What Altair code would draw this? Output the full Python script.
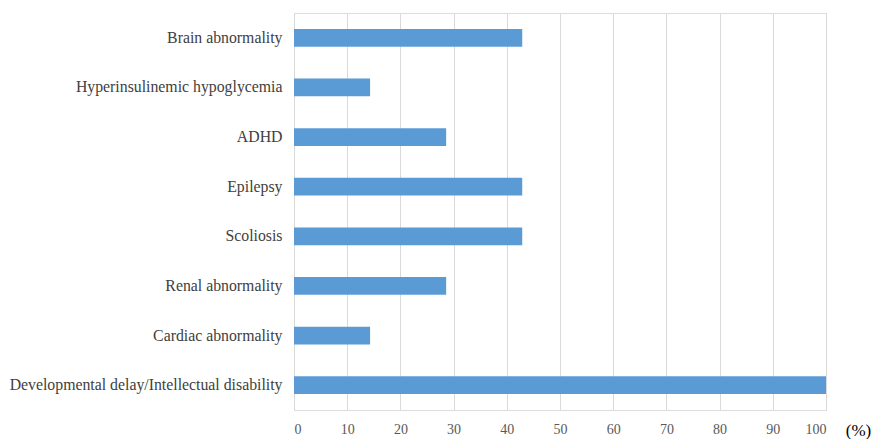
import altair as alt
import pandas as pd

categories = [
    "Brain abnormality",
    "Hyperinsulinemic hypoglycemia",
    "ADHD",
    "Epilepsy",
    "Scoliosis",
    "Renal abnormality",
    "Cardiac abnormality",
    "Developmental delay/Intellectual disability",
]
values = [42.9, 14.3, 28.6, 42.9, 42.9, 28.6, 14.3, 100.0]
x_ticks = [0, 10, 20, 30, 40, 50, 60, 70, 80, 90, 100]

df = pd.DataFrame({"category": categories, "value": values})

serif = "Liberation Serif"

chart = (
    alt.Chart(df)
    .mark_bar(color="#5B9BD5")
    .encode(
        x=alt.X(
            "value:Q",
            scale=alt.Scale(domain=[0, 100], nice=False),
            axis=alt.Axis(
                values=x_ticks,
                title="(%)",
                titleFont=serif,
                titleFontSize=17,
                titleFontWeight="normal",
                titleColor="#000000",
                titleAngle=0,
                titleAlign="center",
                titleBaseline="middle",
                titleX=564,
                titleY=20,
                domain=False,
                ticks=False,
                labelFont=serif,
                labelFontSize=14,
                labelColor="#595959",
                labelPadding=12,
                grid=True,
                gridColor="#D9D9D9",
                gridWidth=1,
            ),
        ),
        y=alt.Y(
            "category:N",
            sort=categories,
            scale=alt.Scale(paddingInner=0.64),
            axis=alt.Axis(
                title=None,
                domain=False,
                ticks=False,
                labelFont=serif,
                labelFontSize=15.8,
                labelColor="#404040",
                labelPadding=12,
                labelLimit=400,
            ),
        ),
    )
    .properties(
        width=532,
        height=397,
        autosize=alt.AutoSizeParams(type="none"),
        padding={"left": 286, "top": 5, "right": 46, "bottom": 30},
    )
    .configure_view(strokeWidth=0, stroke="transparent")
    .configure(background="white")
)

chart.save("out.html", embed_options={"renderer": "svg", "actions": False})
